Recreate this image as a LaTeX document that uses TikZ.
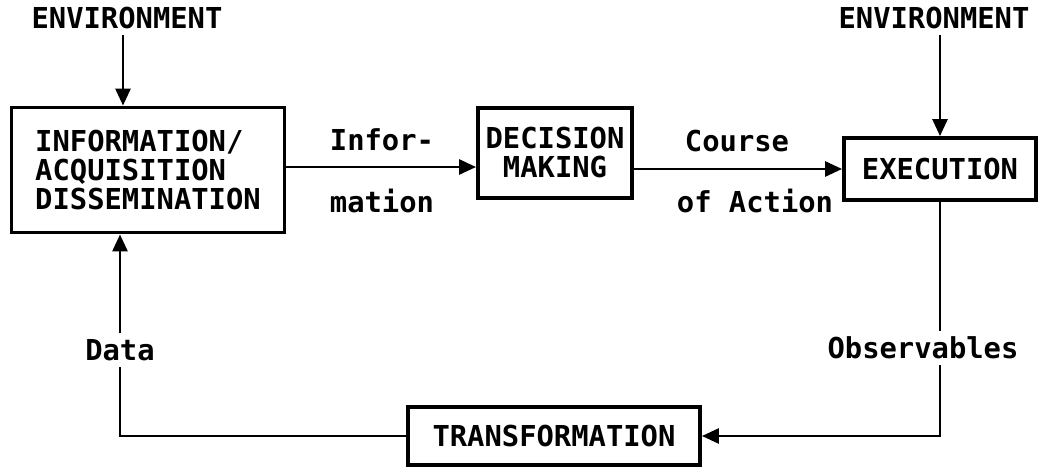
\documentclass[tikz,border=0pt]{standalone}
\usepackage{fontspec}
\setmainfont{DejaVu Sans Mono}
\usetikzlibrary{arrows.meta}

\begin{document}
\begin{tikzpicture}[>={Triangle[length=3.4mm,width=3mm]},
        font=\fontsize{16.4pt}{16.5pt}\selectfont\bfseries,
        blk/.style={draw,line width=2.2pt,inner sep=0pt},
        lbl/.style={font=\fontsize{16.4pt}{15.5pt}\selectfont\bfseries},
        conn/.style={line width=1.6pt}]
        \useasboundingbox (0,0) rectangle (20.84,9.44);
        \node (E1) at (2.54,9.08) {ENVIRONMENT};
        \node (E2) at (18.68,9.08) {ENVIRONMENT};
        \node[blk,align=left,minimum width=5.46cm,minimum height=2.5cm] (I) at (2.96,6.04) {INFORMATION/\\ACQUISITION\\DISSEMINATION};
        \node[blk,align=center,minimum width=3.08cm,minimum height=1.8cm] (D) at (11.1,6.38) {DECISION\\MAKING};
        \node[blk,minimum width=3.84cm,minimum height=1.24cm] (X) at (18.8,6.06) {EXECUTION};
        \node[blk,minimum width=5.84cm,minimum height=1.16cm] (T) at (11.08,0.72) {TRANSFORMATION};
        \node[lbl] (L1) at (7.64,6.64) {Infor-};
        \node[lbl] (L2) at (7.64,5.42) {mation};
        \node[lbl] (L3) at (14.74,6.62) {Course};
        \node[lbl] (L4) at (15.1,5.42) {of Action};
        \node[lbl] (O) at (18.46,2.48) {Observables};
        \node[lbl] (Dt) at (2.4,2.44) {Data};
        \draw[conn,->] ([xshift=-0.8mm]E1.south) -- ([xshift=-0.8mm]E1.south |- I.north);
        \draw[conn,->] (E2.south -| X.north) -- (X.north);
        \draw[conn,->] ([yshift=-2.8mm]D.west -| I.east) -- ([yshift=-2.8mm]D.west);
        \draw[conn,->] (X.west -| D.east) -- (X.west);
        \draw[conn] (X.south) -- (X.south |- O.north);
        \draw[conn,->] (X.south |- O.south) |- (T.east);
        \draw[conn] (T.west) -| (Dt.south);
        \draw[conn,->] (Dt.north) -- (Dt.north |- I.south);
    \end{tikzpicture}
\end{document}
